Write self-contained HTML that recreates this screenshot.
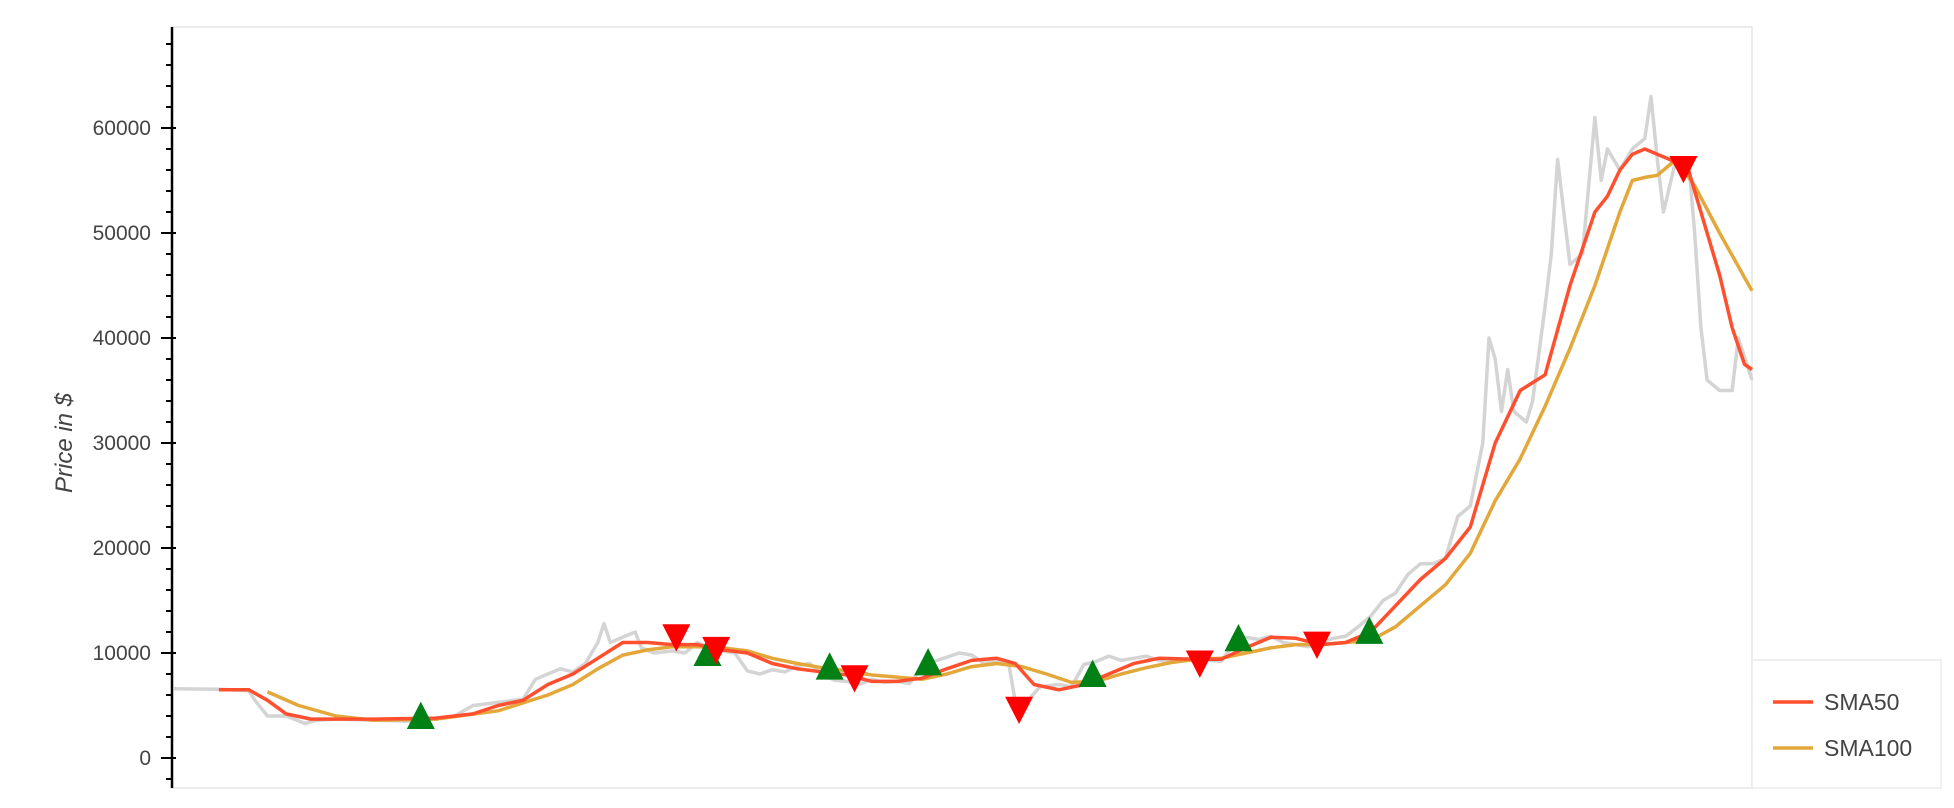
<!DOCTYPE html>
<html><head><meta charset="utf-8"><style>
html,body{margin:0;padding:0;background:#fff;}
svg{display:block;font-family:"Liberation Sans",sans-serif;}
</style></head><body>
<svg id="chart" width="1954" height="808"></svg>
<script>
// data (x = day index, values in $)
const priceDays=[0,36,60,65,75,90,105,115,130,160,190,210,225,240,260,280,290,300,310,320,330,340,345,350,360,370,375,385,400,410,420,430,440,450,460,470,480,490,500,510,520,530,540,550,560,570,580,590,600,610,620,630,640,650,660,670,675,685,695,710,720,730,740,750,760,770,780,790,800,810,820,830,840,850,860,870,880,890,900,910,920,930,940,950,960,970,980,990,1000,1010,1020,1030,1040,1050,1055,1060,1065,1070,1075,1085,1090,1100,1105,1110,1115,1120,1130,1140,1145,1150,1160,1170,1180,1185,1190,1195,1205,1215,1220,1225,1230,1240,1250,1255,1266];
const priceVals=[6600,6550,6400,5500,4000,4000,3300,3600,3700,3600,3500,3700,4000,5000,5300,5600,7500,8000,8500,8200,9000,11000,12800,11000,11500,12000,10500,10000,10200,10000,11000,10500,10200,10000,8300,8000,8400,8200,8800,9000,8000,7400,7300,7000,7500,7200,7300,7100,8600,9200,9600,10000,9800,9000,9300,8800,5300,5500,6800,7000,6800,8900,9200,9700,9300,9500,9700,9300,9200,9400,9200,9300,9200,10800,11500,11300,11600,11000,10800,10600,11000,11400,11600,12500,13500,15000,15700,17500,18500,18500,19000,23000,24000,30000,40000,38000,33000,37000,33000,32000,34000,43000,48000,57000,52000,47000,48000,61000,55000,58000,56000,58000,59000,63000,57000,52000,57000,57000,50000,41000,36000,35000,35000,40000,36000];
const sma50Days=[36,60,75,90,110,160,210,240,260,280,300,320,340,360,380,400,420,440,460,480,500,520,540,560,580,600,620,640,660,675,690,710,730,750,770,790,820,840,860,880,900,920,940,960,980,1000,1020,1040,1060,1080,1100,1120,1140,1150,1160,1170,1180,1200,1215,1225,1240,1250,1260,1266];
const sma50Vals=[6500,6500,5500,4200,3700,3700,3800,4200,5000,5500,7000,8000,9500,11000,11000,10800,10800,10300,10000,9000,8500,8200,7900,7300,7300,7600,8500,9300,9500,9000,7000,6500,7000,8000,9000,9500,9400,9400,10500,11500,11400,10800,11000,12000,14500,17000,19000,22000,30000,35000,36500,45000,52000,53500,56000,57500,58000,57000,56000,52000,46000,41000,37500,37000];
const sma100Days=[75,100,130,160,210,260,300,320,340,360,380,400,420,440,460,480,500,520,540,560,580,600,620,640,660,680,700,720,740,760,780,800,820,840,860,880,900,920,940,960,980,1000,1020,1040,1060,1080,1100,1120,1140,1160,1170,1180,1190,1205,1220,1240,1266];
const sma100Vals=[6300,5000,4000,3600,3700,4500,6000,7000,8500,9800,10300,10600,10600,10500,10200,9500,9000,8600,8300,7900,7700,7500,8000,8700,9000,8700,8000,7200,7300,8000,8600,9100,9400,9500,10000,10500,10800,10800,11000,11200,12500,14500,16500,19500,24500,28500,33500,39000,45000,52000,55000,55300,55500,57000,54500,50000,44500];
const buyDays=[198,428,526,605,737,854,959];
const buyVals=[3900,9900,8600,9000,7900,11300,12000];
const sellDays=[403,435,546,678,823,917,1211];
const sellVals=[11600,10400,7700,4700,9100,10900,56200];
const yTicks=[0,10000,20000,30000,40000,50000,60000];

const NS='http://www.w3.org/2000/svg';
const svg=document.getElementById('chart');
const L=172,R=1752,T=27,B=788;
const X=d=>174+d*(1752-174)/1266;
const Y=v=>758-v*(758-128)/60000;
function el(t,a,p){const e=document.createElementNS(NS,t);for(const k in a)e.setAttribute(k,a[k]);(p||svg).appendChild(e);return e;}

const frame=el('rect',{x:L,y:T,width:R-L,height:B-T,fill:'none',stroke:'#e5e5e5','stroke-width':1.5});



function line(days,vals,color,w,name){
  const d=days.map((x,i)=>(i?'L':'M')+X(x).toFixed(1)+','+Y(vals[i]).toFixed(1)).join('');
  const p=el('path',{d:d,fill:'none',stroke:color,'stroke-width':w,'stroke-linejoin':'round'});
  
  
}
line(priceDays,priceVals,'#d4d4d4',3.5,'price-line');
line(sma100Days,sma100Vals,'#e3a73a',3.5,'sma100-line');
line(sma50Days,sma50Vals,'#ff4f2f',3.5,'sma50-line');

const s=14;
buyDays.forEach((d,i)=>{const x=X(d),y=Y(buyVals[i]);
  const t=el('polygon',{points:`${x-s},${y+s*0.85} ${x+s},${y+s*0.85} ${x},${y-s*1.1}`,fill:'#008015'});
  
  });
sellDays.forEach((d,i)=>{const x=X(d),y=Y(sellVals[i]);
  const t=el('polygon',{points:`${x-s},${y-s*0.85} ${x+s},${y-s*0.85} ${x},${y+s*1.1}`,fill:'#ff0000'});
  
  });

// y axis
const ax=el('line',{x1:L,y1:T,x2:L,y2:B,stroke:'#000','stroke-width':2.5});


for(let v=-2000;v<=68000;v+=2000){const y=Y(v);
  const major=v%10000===0;
  el('line',{x1:major?161:166,y1:y,x2:major?176:172,y2:y,stroke:'#000','stroke-width':2});}
yTicks.forEach(v=>{const t=el('text',{x:151,y:Y(v)+7,'text-anchor':'end','font-size':21,fill:'#444'});
  t.textContent=v;
  
  });
const yt=el('text',{x:0,y:0,transform:'translate(72,443) rotate(-90)','text-anchor':'middle','font-size':24,'font-style':'italic',fill:'#444'});
yt.textContent='Price in $';



// legend
const lg=el('g',{});


el('rect',{x:1752,y:660,width:189,height:128,fill:'#fff',stroke:'#eaeaea','stroke-width':1.5},lg);
[['SMA50','#ff4f2f',702],['SMA100','#e3a73a',748]].forEach(([n,c,y])=>{
  const g=el('g',{},lg);
  
  
  el('line',{x1:1773,y1:y,x2:1813,y2:y,stroke:c,'stroke-width':3.5},g);
  const t=el('text',{x:1824,y:y+8,'font-size':23,fill:'#444'},g);t.textContent=n;});
</script>
</body></html>
